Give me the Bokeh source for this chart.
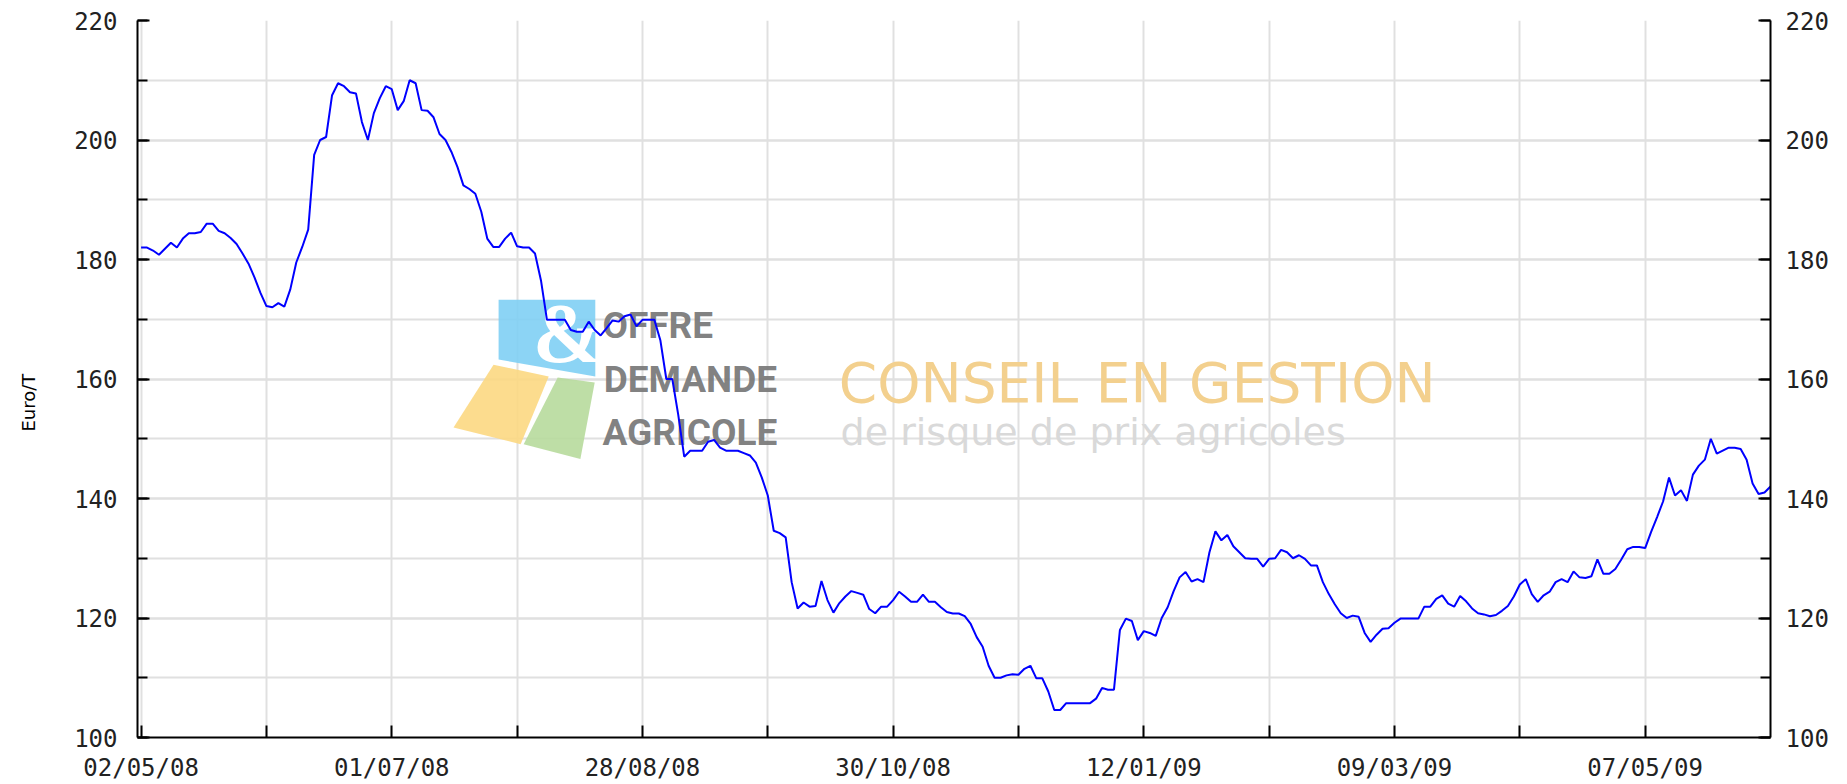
from bokeh.plotting import figure
from bokeh.models import Range1d, LinearAxis, FixedTicker, SingleIntervalTicker, Title
from bokeh.embed import file_html
from bokeh.resources import INLINE
from bokeh.core.properties import value

# ---- data ----
tick_positions = [0, 42, 84, 126, 168, 210, 252]
tick_labels = ["02/05/08", "01/07/08", "28/08/08", "30/10/08", "12/01/09", "09/03/09", "07/05/09"]
minor_positions = [21, 63, 105, 147, 189, 231]

prices = [
    182, 182, 181.5, 180.8, 181.8, 182.8, 182, 183.5, 184.4, 184.4,
    184.6, 186, 186, 184.8, 184.4, 183.6, 182.6, 181, 179.3, 177,
    174.4, 172.2, 172, 172.7, 172.1, 175, 179.5, 182.1, 185, 197.5,
    200, 200.5, 207.5, 209.5, 209, 208, 207.8, 203, 200, 204.5,
    207, 209, 208.5, 205, 206.5, 210, 209.5, 205, 204.9, 203.8,
    201, 200, 198, 195.5, 192.4, 191.8, 191, 188, 183.5, 182.1,
    182.1, 183.5, 184.5, 182.2, 182, 182, 181, 176.5, 169.9, 169.9,
    169.9, 169.9, 168.2, 167.9, 167.9, 169.6, 168.2, 167.3, 168.5, 169.8,
    169.6, 170.5, 170.8, 168.8, 169.9, 169.9, 169.9, 166.5, 160, 160,
    154, 147, 148, 148, 148, 149.5, 149.8, 148.5, 148, 148,
    148, 147.6, 147.2, 146, 143.5, 140.5, 134.6, 134.2, 133.5, 126,
    121.6, 122.6, 121.9, 122, 126.2, 123, 120.9, 122.5, 123.6, 124.5,
    124.2, 123.9, 121.5, 120.8, 121.9, 121.9, 123, 124.4, 123.6, 122.7,
    122.7, 123.9, 122.7, 122.7, 121.8, 121, 120.75, 120.75, 120.3, 119,
    116.8, 115.2, 112, 110, 110, 110.4, 110.6, 110.5, 111.5, 112,
    109.9, 109.9, 107.7, 104.6, 104.6, 105.75, 105.75, 105.75, 105.75, 105.75,
    106.5, 108.3, 108, 108, 118, 119.9, 119.5, 116.3, 117.8, 117.5,
    117, 120, 121.8, 124.5, 126.8, 127.7, 126.1, 126.5, 126, 131,
    134.5, 133, 133.9, 132, 131, 130, 129.9, 129.9, 128.6, 129.9,
    130, 131.4, 131, 130, 130.5, 129.9, 128.8, 128.8, 126, 124,
    122.3, 120.8, 120, 120.4, 120.2, 117.5, 116, 117.2, 118.2, 118.3,
    119.2, 119.9, 119.9, 119.9, 119.9, 121.9, 121.9, 123.2, 123.8, 122.4,
    121.9, 123.7, 122.8, 121.6, 120.8, 120.6, 120.3, 120.5, 121.2, 122,
    123.6, 125.6, 126.5, 124, 122.7, 123.8, 124.4, 126, 126.5, 126,
    127.8, 126.8, 126.7, 127, 129.8, 127.4, 127.4, 128.2, 129.8, 131.5,
    131.9, 131.9, 131.7, 134.4, 136.9, 139.5, 143.5, 140.5, 141.4, 139.6,
    144, 145.5, 146.5, 150, 147.5, 148, 148.5, 148.5, 148.3, 146.5,
    142.5, 140.75, 141, 142,
]
days = list(range(len(prices)))

FONT = "DejaVu Sans Mono"
GRID = "#e0e0e0"

p = figure(width=1847, height=784, output_backend="svg", toolbar_location=None,
           x_range=Range1d(-0.6, 273), y_range=Range1d(100, 220),
           min_border_left=137, min_border_right=77, min_border_top=20,
           min_border_bottom=44)
p.outline_line_color = None
p.background_fill_color = "white"

# ---- watermark (logo + texts) ----
p.patch([59.9, 76.1, 76.1, 59.9], [173.25, 173.25, 160.4, 163.25],
        fill_color="#7fcff4", line_color=None, fill_alpha=0.9)
p.patch([59.05, 68.3, 63.6, 52.35], [162.4, 160.4, 149.1, 151.9],
        fill_color="#fcd882", line_color=None, fill_alpha=0.9)
p.patch([69.8, 76.0, 73.6, 64.1], [160.25, 159.4, 146.6, 149.1],
        fill_color="#b7da9c", line_color=None, fill_alpha=0.9)
p.text(x=[71.5], y=[167.6], text=["&"], text_font=value("Liberation Serif"),
       text_font_style="bold", text_font_size="84px", text_color="white",
       text_align="center", text_baseline="alphabetic")
p.text(x=[77.3, 77.5, 77.3], y=[168.9, 159.9, 151.1],
       text=["OFFRE", "DEMANDE", "AGRICOLE"],
       text_font=value("Roboto"), text_font_style="bold",
       text_font_size="37px", text_color="#7a7a7a", text_alpha=0.95,
       text_align="left", text_baseline="alphabetic")
p.text(x=[116.9], y=[159.4], text=["CONSEIL EN GESTION"],
       text_font=value("DejaVu Sans"), text_font_size="55px",
       text_color="#f3d08e", text_align="left", text_baseline="alphabetic")
p.text(x=[117.2], y=[151.2], text=["de risque de prix agricoles"],
       text_font=value("DejaVu Sans"), text_font_size="38px",
       text_color="#d9d9d9", text_align="left", text_baseline="alphabetic")

# ---- price line ----
p.line(days, prices, line_color="#0000ff", line_width=2)

# ---- axes ----
p.xaxis.ticker = FixedTicker(ticks=tick_positions, minor_ticks=minor_positions)
p.xaxis.major_label_overrides = {t: lab for t, lab in zip(tick_positions, tick_labels)}
p.yaxis.ticker = SingleIntervalTicker(interval=20, num_minor_ticks=2)

right = LinearAxis(ticker=SingleIntervalTicker(interval=20, num_minor_ticks=2))
p.add_layout(right, "right")

# y-axis name, drawn as a left-side title so it can sit below the frame centre
ylab = Title(text="Euro/T\n ", align="left", offset=306, standoff=24,
             text_font="DejaVu Sans", text_font_size="18px",
             text_font_style="normal", text_color="black")
p.add_layout(ylab, "left")

for ax in p.xaxis + p.yaxis + [right]:
    ax.axis_line_color = "black"
    ax.axis_line_width = 2
    ax.major_tick_line_color = "black"
    ax.major_tick_line_width = 2
    ax.minor_tick_line_color = "black"
    ax.minor_tick_line_width = 2
    ax.major_tick_in = 12
    ax.major_tick_out = 0
    ax.minor_tick_in = 10
    ax.minor_tick_out = 0
    ax.major_label_text_font = FONT
    ax.major_label_text_font_size = "24px"
    ax.major_label_text_color = "#222222"
p.yaxis.major_label_standoff = 20
right.major_label_standoff = 15
p.xaxis.major_label_standoff = 16
p.xaxis.minor_tick_in = 12

p.xgrid.grid_line_color = GRID
p.xgrid.grid_line_width = 2
p.xgrid.minor_grid_line_color = GRID
p.xgrid.minor_grid_line_width = 2
p.ygrid.grid_line_color = GRID
p.ygrid.grid_line_width = 2
p.ygrid.minor_grid_line_color = GRID
p.ygrid.minor_grid_line_width = 2

open("out.html", "w").write(file_html(p, INLINE))
